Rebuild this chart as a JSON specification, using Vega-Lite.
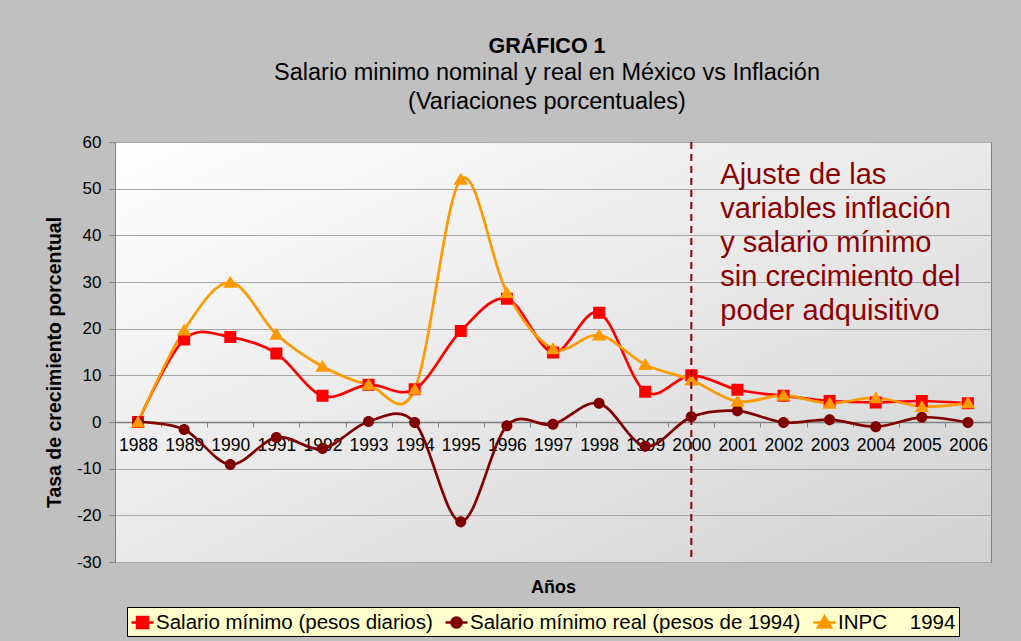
{
  "$schema": "https://vega.github.io/schema/vega-lite/v6.json",
  "width": 876,
  "height": 420,
  "autosize": {"type": "none"},
  "padding": {"left": 115, "top": 142, "right": 30, "bottom": 79},
  "background": "#C0C0C0",
  "title": {
    "text": "GRÁFICO 1",
    "subtitle": ["Salario minimo nominal y real en México vs Inflación", "(Variaciones porcentuales)"],
    "anchor": "middle",
    "frame": "group",
    "font": "Liberation Sans",
    "fontSize": 21.5,
    "fontWeight": "bold",
    "color": "black",
    "subtitleFont": "Liberation Sans",
    "subtitleFontSize": 23.5,
    "subtitleColor": "black",
    "subtitleLineHeight": 29,
    "subtitlePadding": 3,
    "offset": 20,
    "dx": -6
  },
  "config": {
    "font": "Liberation Sans",
    "view": {
      "fill": {
        "gradient": "linear", "x1": 0, "y1": 0, "x2": 1, "y2": 1,
        "stops": [{"offset": 0, "color": "#ffffff"}, {"offset": 1, "color": "#d2d2d2"}]
      },
      "stroke": "#808080",
      "strokeWidth": 1
    },
    "axisY": {
      "grid": true, "gridColor": "#a6a6a6", "gridWidth": 1,
      "domainColor": "#808080", "tickColor": "#808080", "tickSize": 6,
      "labelFontSize": 17, "labelColor": "black", "labelPadding": 8,
      "labelExpr": "'' + datum.value",
      "titleFontSize": 19.5, "titleFontWeight": "bold", "titleColor": "black", "titlePadding": 12,
      "titleY": 220
    },
    "axisX": {
      "grid": false, "offset": -140, "tickBand": "extent", "labelAngle": 0,
      "domainColor": "#808080", "domainWidth": 1.5, "tickColor": "#808080", "tickSize": 5,
      "labelFontSize": 17.5, "labelColor": "black", "labelPadding": 9,
      "titleFontSize": 18, "titleFontWeight": "bold", "titleColor": "black",
      "titleY": 165, "titleBaseline": "middle"
    },
    "legend": {
      "orient": "none", "legendX": 12, "legendY": 465, "direction": "horizontal",
      "fillColor": "#FFFFCC", "strokeColor": "black", "padding": 3,
      "labelFontSize": 20.5, "labelColor": "black", "labelOffset": 1, "labelLimit": 600,
      "symbolSize": 484, "symbolStrokeWidth": 2.5, "symbolOpacity": 1,
      "columnPadding": 7, "titlePadding": 0
    }
  },
  "layer": [
    {
      "data": {
        "values": [
          {"year": "1988", "series": "Salario mínimo (pesos diarios)", "value": 0},
          {"year": "1989", "series": "Salario mínimo (pesos diarios)", "value": 17.7},
          {"year": "1990", "series": "Salario mínimo (pesos diarios)", "value": 18.2},
          {"year": "1991", "series": "Salario mínimo (pesos diarios)", "value": 14.7},
          {"year": "1992", "series": "Salario mínimo (pesos diarios)", "value": 5.6},
          {"year": "1993", "series": "Salario mínimo (pesos diarios)", "value": 8.0},
          {"year": "1994", "series": "Salario mínimo (pesos diarios)", "value": 7.0},
          {"year": "1995", "series": "Salario mínimo (pesos diarios)", "value": 19.5},
          {"year": "1996", "series": "Salario mínimo (pesos diarios)", "value": 26.4},
          {"year": "1997", "series": "Salario mínimo (pesos diarios)", "value": 14.9},
          {"year": "1998", "series": "Salario mínimo (pesos diarios)", "value": 23.4},
          {"year": "1999", "series": "Salario mínimo (pesos diarios)", "value": 6.5},
          {"year": "2000", "series": "Salario mínimo (pesos diarios)", "value": 10.0},
          {"year": "2001", "series": "Salario mínimo (pesos diarios)", "value": 6.9},
          {"year": "2002", "series": "Salario mínimo (pesos diarios)", "value": 5.6},
          {"year": "2003", "series": "Salario mínimo (pesos diarios)", "value": 4.5},
          {"year": "2004", "series": "Salario mínimo (pesos diarios)", "value": 4.2},
          {"year": "2005", "series": "Salario mínimo (pesos diarios)", "value": 4.5},
          {"year": "2006", "series": "Salario mínimo (pesos diarios)", "value": 4.0},
          {"year": "1988", "series": "Salario mínimo real (pesos de 1994)", "value": 0},
          {"year": "1989", "series": "Salario mínimo real (pesos de 1994)", "value": -1.6},
          {"year": "1990", "series": "Salario mínimo real (pesos de 1994)", "value": -9.1},
          {"year": "1991", "series": "Salario mínimo real (pesos de 1994)", "value": -3.3},
          {"year": "1992", "series": "Salario mínimo real (pesos de 1994)", "value": -5.7},
          {"year": "1993", "series": "Salario mínimo real (pesos de 1994)", "value": 0.1},
          {"year": "1994", "series": "Salario mínimo real (pesos de 1994)", "value": -0.1},
          {"year": "1995", "series": "Salario mínimo real (pesos de 1994)", "value": -21.4},
          {"year": "1996", "series": "Salario mínimo real (pesos de 1994)", "value": -0.8},
          {"year": "1997", "series": "Salario mínimo real (pesos de 1994)", "value": -0.5},
          {"year": "1998", "series": "Salario mínimo real (pesos de 1994)", "value": 4.0},
          {"year": "1999", "series": "Salario mínimo real (pesos de 1994)", "value": -5.2},
          {"year": "2000", "series": "Salario mínimo real (pesos de 1994)", "value": 1.1},
          {"year": "2001", "series": "Salario mínimo real (pesos de 1994)", "value": 2.4},
          {"year": "2002", "series": "Salario mínimo real (pesos de 1994)", "value": -0.1},
          {"year": "2003", "series": "Salario mínimo real (pesos de 1994)", "value": 0.5},
          {"year": "2004", "series": "Salario mínimo real (pesos de 1994)", "value": -1.0},
          {"year": "2005", "series": "Salario mínimo real (pesos de 1994)", "value": 1.0},
          {"year": "2006", "series": "Salario mínimo real (pesos de 1994)", "value": -0.1},
          {"year": "1988", "series": "INPC\u00a0\u00a0\u00a0\u00a01994", "value": 0},
          {"year": "1989", "series": "INPC\u00a0\u00a0\u00a0\u00a01994", "value": 19.7},
          {"year": "1990", "series": "INPC\u00a0\u00a0\u00a0\u00a01994", "value": 29.9},
          {"year": "1991", "series": "INPC\u00a0\u00a0\u00a0\u00a01994", "value": 18.8},
          {"year": "1992", "series": "INPC\u00a0\u00a0\u00a0\u00a01994", "value": 11.9},
          {"year": "1993", "series": "INPC\u00a0\u00a0\u00a0\u00a01994", "value": 8.0},
          {"year": "1994", "series": "INPC\u00a0\u00a0\u00a0\u00a01994", "value": 7.0},
          {"year": "1995", "series": "INPC\u00a0\u00a0\u00a0\u00a01994", "value": 52.0},
          {"year": "1996", "series": "INPC\u00a0\u00a0\u00a0\u00a01994", "value": 27.7},
          {"year": "1997", "series": "INPC\u00a0\u00a0\u00a0\u00a01994", "value": 15.7},
          {"year": "1998", "series": "INPC\u00a0\u00a0\u00a0\u00a01994", "value": 18.6},
          {"year": "1999", "series": "INPC\u00a0\u00a0\u00a0\u00a01994", "value": 12.3},
          {"year": "2000", "series": "INPC\u00a0\u00a0\u00a0\u00a01994", "value": 9.0},
          {"year": "2001", "series": "INPC\u00a0\u00a0\u00a0\u00a01994", "value": 4.4},
          {"year": "2002", "series": "INPC\u00a0\u00a0\u00a0\u00a01994", "value": 5.7},
          {"year": "2003", "series": "INPC\u00a0\u00a0\u00a0\u00a01994", "value": 4.0},
          {"year": "2004", "series": "INPC\u00a0\u00a0\u00a0\u00a01994", "value": 5.2},
          {"year": "2005", "series": "INPC\u00a0\u00a0\u00a0\u00a01994", "value": 3.3},
          {"year": "2006", "series": "INPC\u00a0\u00a0\u00a0\u00a01994", "value": 4.1}
        ]
      },
      "encoding": {
        "x": {"field": "year", "type": "nominal", "title": "Años",
              "scale": {"type": "band", "paddingInner": 0, "paddingOuter": 0}},
        "y": {"field": "value", "type": "quantitative", "title": "Tasa de crecimiento porcentual",
              "scale": {"domain": [-30, 60], "nice": false},
              "axis": {"values": [-30, -20, -10, 0, 10, 20, 30, 40, 50, 60]}},
        "color": {"field": "series", "type": "nominal", "title": null,
                  "scale": {"domain": ["Salario mínimo (pesos diarios)", "Salario mínimo real (pesos de 1994)", "INPC\u00a0\u00a0\u00a0\u00a01994"],
                            "range": ["#FF0000", "#800000", "#FF9900"]},
                  "legend": {"title": null, "encode": {"symbols": {"update": {"stroke": {"scale": "color", "field": "value"}}}}}}
      },
      "layer": [
        {"mark": {"type": "line", "interpolate": "cardinal", "strokeWidth": 2.7}},
        {
          "mark": {"type": "point", "filled": true, "opacity": 1, "size": 576, "strokeWidth": 0},
          "encoding": {
            "shape": {"field": "series", "type": "nominal", "title": null,
                      "scale": {"domain": ["Salario mínimo (pesos diarios)", "Salario mínimo real (pesos de 1994)", "INPC\u00a0\u00a0\u00a0\u00a01994"],
                                "range": ["M-1,0H1M-0.5,-0.5H0.5V0.5H-0.5Z",
                                          "M-1,0H1M0.46,0A0.46,0.46,0,1,1,-0.46,0A0.46,0.46,0,1,1,0.46,0Z",
                                          "M-1,0H1M0,-0.55L0.6,0.45H-0.6Z"]},
                      "legend": {"title": null, "encode": {"symbols": {"update": {"stroke": {"scale": "color", "field": "value"}}}}}}
          }
        }
      ]
    },
    {
      "data": {"values": [{"year": "2000"}]},
      "mark": {"type": "rule", "color": "#8B0000", "strokeWidth": 2, "strokeDash": [7, 5]},
      "encoding": {"x": {"field": "year", "type": "nominal", "title": "Años"}}
    },
    {
      "data": {"values": [{"label": "Ajuste de las\nvariables inflación\ny salario mínimo\nsin crecimiento del\npoder adquisitivo"}]},
      "mark": {"type": "text", "align": "left", "baseline": "top", "lineBreak": "\n", "lineHeight": 34,
               "fontSize": 29, "color": "#8B0000", "dx": 29},
      "encoding": {
        "x": {"datum": "2000", "type": "nominal"},
        "y": {"datum": 56, "type": "quantitative"},
        "text": {"field": "label"}
      }
    }
  ]
}
